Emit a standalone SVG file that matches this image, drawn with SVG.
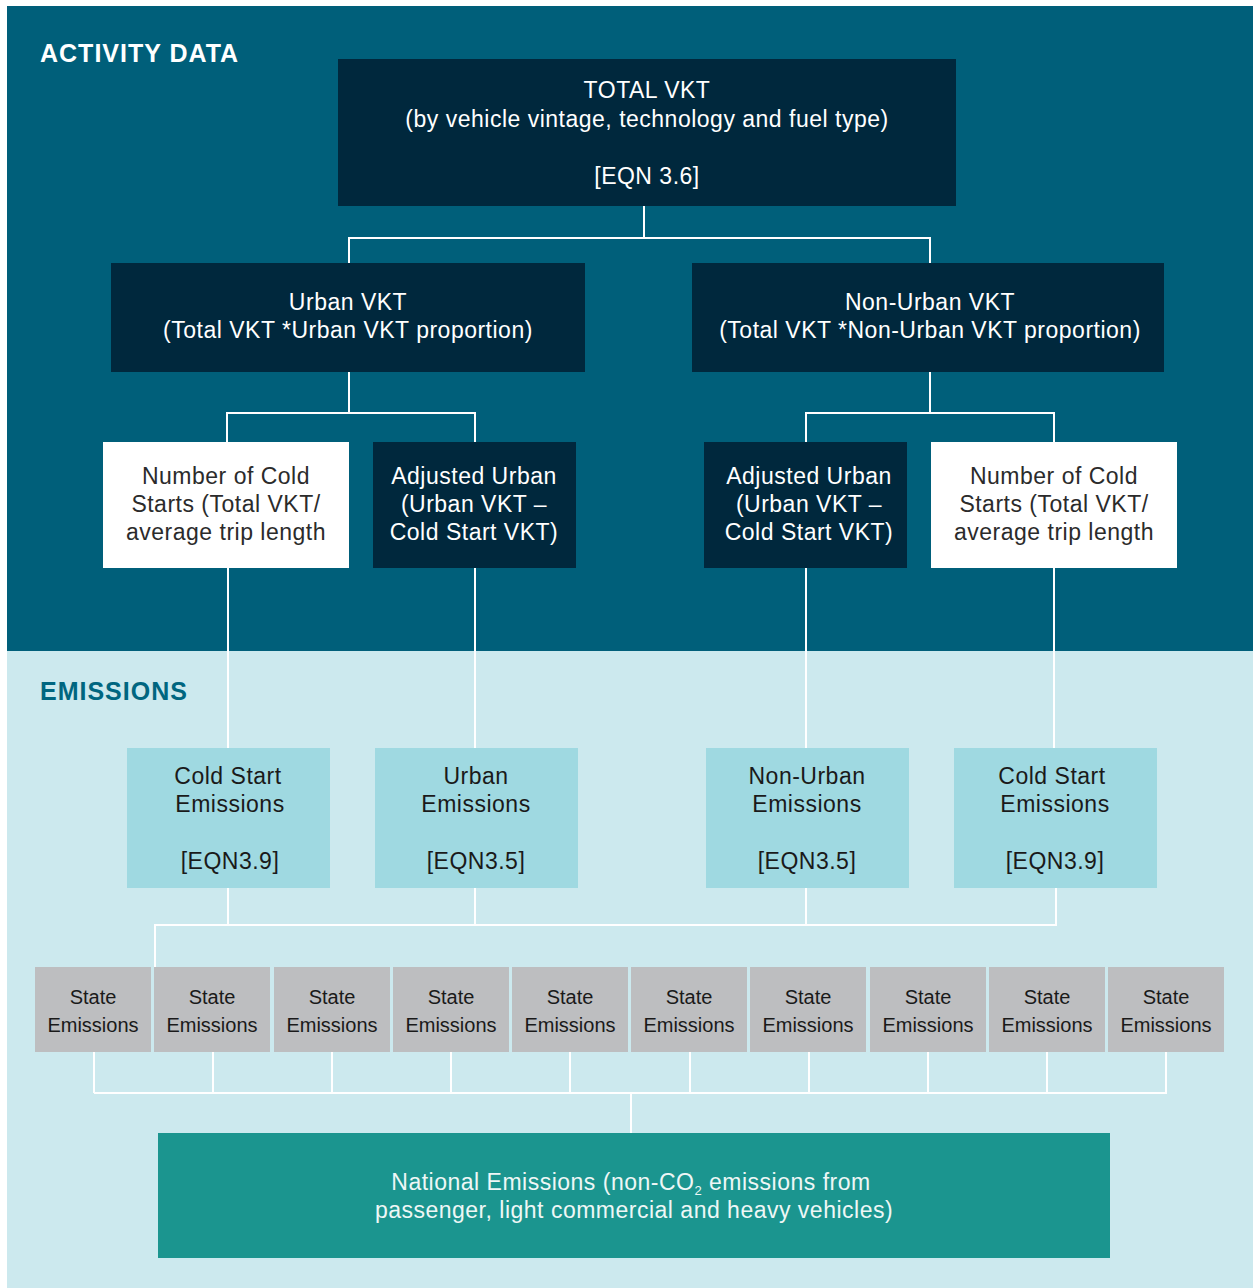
<svg xmlns="http://www.w3.org/2000/svg" width="1253" height="1288" viewBox="0 0 1253 1288">
<style>
text{font-family:"Liberation Sans",Arial,sans-serif;text-anchor:middle}
.t{font-size:23px;letter-spacing:0.5px}
.lt{fill:#ffffff}
.dk{fill:#2b2b2b}
.s{font-size:20px;fill:#1a1a1a}
.h{font-size:25px;font-weight:bold;text-anchor:start;letter-spacing:1px}
.navy{fill:#00283d}
.em{fill:#9fd9e1}
.st{fill:#bdbec0}
.ln{fill:none;stroke:#ffffff;stroke-width:2}
</style>
<rect x="0" y="0" width="1253" height="1288" fill="#ffffff"/>
<rect x="7" y="6" width="1246" height="645" fill="#005f7a"/>
<rect x="7" y="651" width="1246" height="637" fill="#cce9ee"/>
<text class="h lt" x="40" y="62">ACTIVITY DATA</text>
<text class="h" x="40" y="700" fill="#006680">EMISSIONS</text>
<g id="connectors">
<path class="ln" d="M644 206V238M349 263V238H930V263"/>
<path class="ln" d="M349 372V413M227 442V413H475V442"/>
<path class="ln" d="M930 372V413M806 442V413H1054V442"/>
<path class="ln" d="M228 568V748M475 568V748M806 568V748M1054 568V748"/>
<path class="ln" d="M228 888V925M475 888V925M806 888V925M1056 888V925H155V967"/>
<path class="ln" d="M94 1052V1093M213 1052V1093M332 1052V1093M451 1052V1093M570 1052V1093M690 1052V1093M809 1052V1093M928 1052V1093M1047 1052V1093M1166 1052V1093H94M631 1093V1133"/>
</g>
<g id="total-vkt"><rect class="navy" x="338" y="59" width="618" height="147"/>
<text class="t lt" x="647" y="98">TOTAL VKT</text>
<text class="t lt" x="647" y="127">(by vehicle vintage, technology and fuel type)</text>
<text class="t lt" x="647" y="184">[EQN 3.6]</text></g>
<g id="urban-vkt"><rect class="navy" x="111" y="263" width="474" height="109"/>
<text class="t lt" x="348" y="310">Urban VKT</text>
<text class="t lt" x="348" y="338">(Total VKT *Urban VKT proportion)</text></g>
<g id="nonurban-vkt"><rect class="navy" x="692" y="263" width="472" height="109"/>
<text class="t lt" x="930" y="310">Non-Urban VKT</text>
<text class="t lt" x="930" y="338">(Total VKT *Non-Urban VKT proportion)</text></g>
<g id="cold-starts-left"><rect fill="#ffffff" x="103" y="442" width="246" height="126"/>
<text class="t dk" x="226" y="484">Number of Cold</text>
<text class="t dk" x="226" y="512">Starts (Total VKT/</text>
<text class="t dk" x="226" y="540">average trip length</text></g>
<g id="adjusted-urban-left"><rect class="navy" x="373" y="442" width="203" height="126"/>
<text class="t lt" x="474" y="484">Adjusted Urban</text>
<text class="t lt" x="474" y="512">(Urban VKT –</text>
<text class="t lt" x="474" y="540">Cold Start VKT)</text></g>
<g id="adjusted-urban-right"><rect class="navy" x="704" y="442" width="203" height="126"/>
<text class="t lt" x="809" y="484">Adjusted Urban</text>
<text class="t lt" x="809" y="512">(Urban VKT –</text>
<text class="t lt" x="809" y="540">Cold Start VKT)</text></g>
<g id="cold-starts-right"><rect fill="#ffffff" x="931" y="442" width="246" height="126"/>
<text class="t dk" x="1054" y="484">Number of Cold</text>
<text class="t dk" x="1054" y="512">Starts (Total VKT/</text>
<text class="t dk" x="1054" y="540">average trip length</text></g>
<g id="cold-start-emissions-left"><rect class="em" x="127" y="748" width="203" height="140"/>
<text class="t" fill="#1a1a1a" x="228" y="784">Cold Start</text>
<text class="t" fill="#1a1a1a" x="230" y="812">Emissions</text>
<text class="t" fill="#1a1a1a" x="230" y="869">[EQN3.9]</text></g>
<g id="urban-emissions"><rect class="em" x="375" y="748" width="203" height="140"/>
<text class="t" fill="#1a1a1a" x="476" y="784">Urban</text>
<text class="t" fill="#1a1a1a" x="476" y="812">Emissions</text>
<text class="t" fill="#1a1a1a" x="476" y="869">[EQN3.5]</text></g>
<g id="nonurban-emissions"><rect class="em" x="706" y="748" width="203" height="140"/>
<text class="t" fill="#1a1a1a" x="807" y="784">Non-Urban</text>
<text class="t" fill="#1a1a1a" x="807" y="812">Emissions</text>
<text class="t" fill="#1a1a1a" x="807" y="869">[EQN3.5]</text></g>
<g id="cold-start-emissions-right"><rect class="em" x="954" y="748" width="203" height="140"/>
<text class="t" fill="#1a1a1a" x="1052" y="784">Cold Start</text>
<text class="t" fill="#1a1a1a" x="1055" y="812">Emissions</text>
<text class="t" fill="#1a1a1a" x="1055" y="869">[EQN3.9]</text></g>
<g id="state-1"><rect class="st" x="35" y="967" width="116" height="85"/><text class="s" x="93" y="1004">State</text><text class="s" x="93" y="1032">Emissions</text></g>
<g id="state-2"><rect class="st" x="154" y="967" width="116" height="85"/><text class="s" x="212" y="1004">State</text><text class="s" x="212" y="1032">Emissions</text></g>
<g id="state-3"><rect class="st" x="274" y="967" width="116" height="85"/><text class="s" x="332" y="1004">State</text><text class="s" x="332" y="1032">Emissions</text></g>
<g id="state-4"><rect class="st" x="393" y="967" width="116" height="85"/><text class="s" x="451" y="1004">State</text><text class="s" x="451" y="1032">Emissions</text></g>
<g id="state-5"><rect class="st" x="512" y="967" width="116" height="85"/><text class="s" x="570" y="1004">State</text><text class="s" x="570" y="1032">Emissions</text></g>
<g id="state-6"><rect class="st" x="631" y="967" width="116" height="85"/><text class="s" x="689" y="1004">State</text><text class="s" x="689" y="1032">Emissions</text></g>
<g id="state-7"><rect class="st" x="750" y="967" width="116" height="85"/><text class="s" x="808" y="1004">State</text><text class="s" x="808" y="1032">Emissions</text></g>
<g id="state-8"><rect class="st" x="870" y="967" width="116" height="85"/><text class="s" x="928" y="1004">State</text><text class="s" x="928" y="1032">Emissions</text></g>
<g id="state-9"><rect class="st" x="989" y="967" width="116" height="85"/><text class="s" x="1047" y="1004">State</text><text class="s" x="1047" y="1032">Emissions</text></g>
<g id="state-10"><rect class="st" x="1108" y="967" width="116" height="85"/><text class="s" x="1166" y="1004">State</text><text class="s" x="1166" y="1032">Emissions</text></g>
<g id="national-emissions"><rect fill="#1b958f" x="158" y="1133" width="952" height="125"/>
<text class="t" fill="#eef7f6" x="631" y="1190">National Emissions (non-CO<tspan font-size="13" dy="5">2</tspan><tspan dy="-5"> emissions from</tspan></text>
<text class="t" fill="#eef7f6" x="634" y="1218">passenger, light commercial and heavy vehicles)</text></g>
</svg>
